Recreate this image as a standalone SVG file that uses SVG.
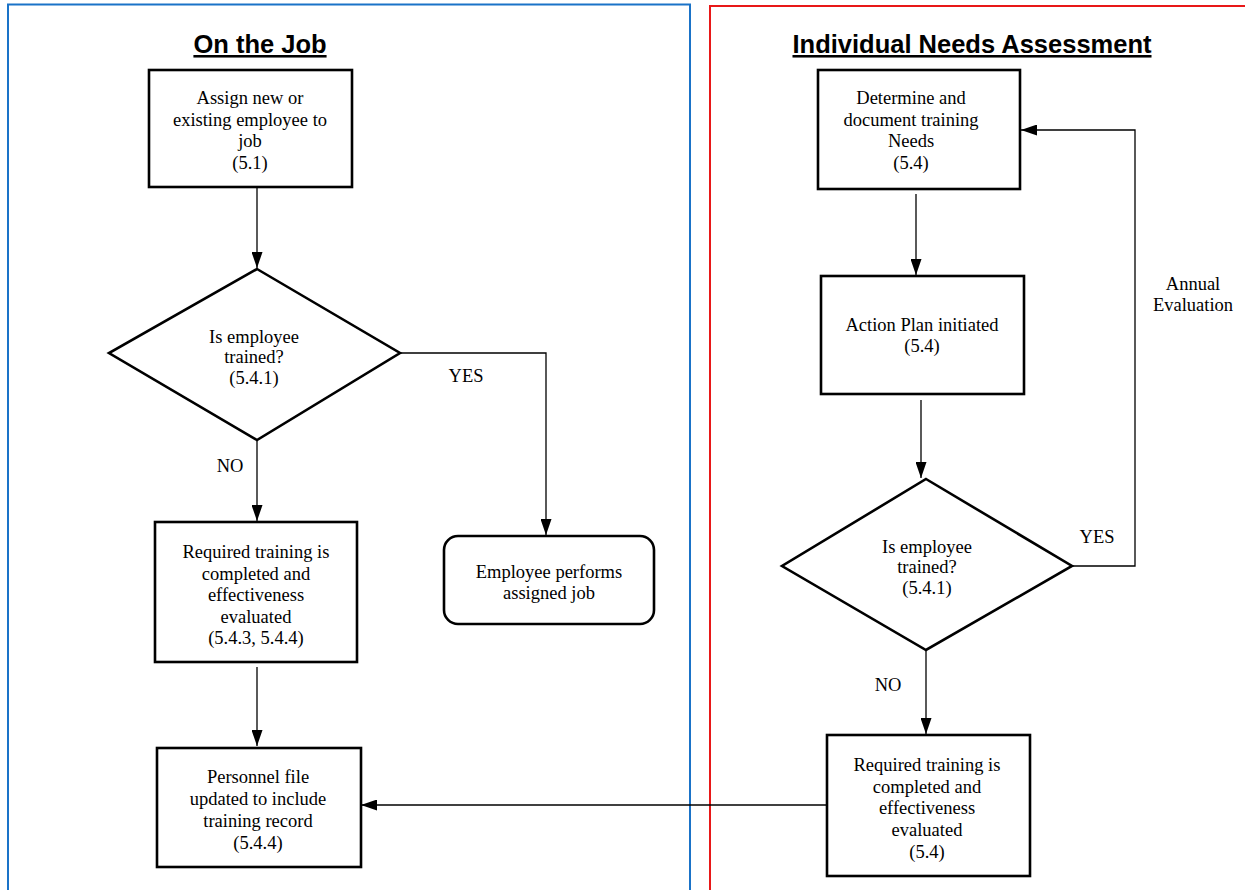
<svg xmlns="http://www.w3.org/2000/svg" width="1245" height="890" viewBox="0 0 1245 890">
<style>
.box{fill:#fff;stroke:#000;stroke-width:2.6}
.t{font-family:'Liberation Serif','Times New Roman',Times,'DejaVu Serif',serif;font-size:18.5px;fill:#000;text-anchor:middle}
.h{font-family:'Liberation Sans',Arial,sans-serif;font-size:25.5px;font-weight:bold;fill:#000;text-anchor:middle;text-decoration:underline}
.c{fill:none;stroke:#000;stroke-width:1.3}
</style>
<defs>
<marker id="ah" markerWidth="16" markerHeight="11" refX="16" refY="5.5" viewBox="0 0 16 11" orient="auto" markerUnits="userSpaceOnUse">
<path d="M0,0 L16,5.5 L0,11 z" fill="#000"/>
</marker>
</defs>
<rect width="1245" height="890" fill="#fff"/>
<g id="frames">
<rect x="8" y="4.5" width="682" height="900" fill="none" stroke="#1a73c8" stroke-width="2"/>
<rect x="710" y="6" width="545" height="900" fill="none" stroke="#e81818" stroke-width="2"/>
<text class="h" x="260" y="53">On the Job</text>
<text class="h" x="972" y="53">Individual Needs Assessment</text>
</g>
<g id="connectors">
<path class="c" d="M257,187 V268" marker-end="url(#ah)"/>
<path class="c" d="M400,353 H546 V535" marker-end="url(#ah)"/>
<path class="c" d="M257,440 V521" marker-end="url(#ah)"/>
<path class="c" d="M257,667 V746" marker-end="url(#ah)"/>
<path class="c" d="M827,805 H361" marker-end="url(#ah)"/>
<path class="c" d="M916,194 V275" marker-end="url(#ah)"/>
<path class="c" d="M921,400 V478" marker-end="url(#ah)"/>
<path class="c" d="M926,650 V734" marker-end="url(#ah)"/>
<path class="c" d="M1072,566 H1135 V130 H1021" marker-end="url(#ah)"/>
<text class="t" x="466" y="382">YES</text>
<text class="t" x="230" y="472">NO</text>
<text class="t" x="888" y="691">NO</text>
<text class="t" x="1097" y="543">YES</text>
<text class="t" x="1193" y="290">Annual</text>
<text class="t" x="1193" y="311">Evaluation</text>
</g>
<g id="n1">
<rect class="box" x="149" y="70" width="203" height="117"/>
<text class="t" x="250" y="104">Assign new or</text>
<text class="t" x="250" y="125.5">existing employee to</text>
<text class="t" x="250" y="147">job</text>
<text class="t" x="250" y="168.5">(5.1)</text>
</g>
<g id="d1">
<polygon class="box" points="257,269 400,353 257,440 109,353"/>
<text class="t" x="254" y="343">Is employee</text>
<text class="t" x="254" y="363">trained?</text>
<text class="t" x="254" y="384">(5.4.1)</text>
</g>
<g id="n2">
<rect class="box" x="155" y="522" width="202" height="140"/>
<text class="t" x="256" y="558">Required training is</text>
<text class="t" x="256" y="580">completed and</text>
<text class="t" x="256" y="601">effectiveness</text>
<text class="t" x="256" y="623">evaluated</text>
<text class="t" x="256" y="644">(5.4.3, 5.4.4)</text>
</g>
<g id="n3">
<rect class="box" x="444" y="536" width="210" height="88" rx="14"/>
<text class="t" x="549" y="578">Employee performs</text>
<text class="t" x="549" y="599">assigned job</text>
</g>
<g id="n4">
<rect class="box" x="157" y="748" width="204" height="119"/>
<text class="t" x="258" y="783">Personnel file</text>
<text class="t" x="258" y="805">updated to include</text>
<text class="t" x="258" y="827">training record</text>
<text class="t" x="258" y="849">(5.4.4)</text>
</g>
<g id="r1">
<rect class="box" x="818" y="70" width="202" height="119"/>
<text class="t" x="911" y="104">Determine and</text>
<text class="t" x="911" y="125.5">document training</text>
<text class="t" x="911" y="147">Needs</text>
<text class="t" x="911" y="168.5">(5.4)</text>
</g>
<g id="r2">
<rect class="box" x="821" y="276" width="203" height="118"/>
<text class="t" x="922" y="331">Action Plan initiated</text>
<text class="t" x="922" y="352">(5.4)</text>
</g>
<g id="d2">
<polygon class="box" points="926,479 1072,566 926,650 782,566"/>
<text class="t" x="927" y="553">Is employee</text>
<text class="t" x="927" y="573">trained?</text>
<text class="t" x="927" y="594">(5.4.1)</text>
</g>
<g id="r3">
<rect class="box" x="827" y="735" width="203" height="141"/>
<text class="t" x="927" y="771">Required training is</text>
<text class="t" x="927" y="793">completed and</text>
<text class="t" x="927" y="814">effectiveness</text>
<text class="t" x="927" y="836">evaluated</text>
<text class="t" x="927" y="858">(5.4)</text>
</g>
</svg>
